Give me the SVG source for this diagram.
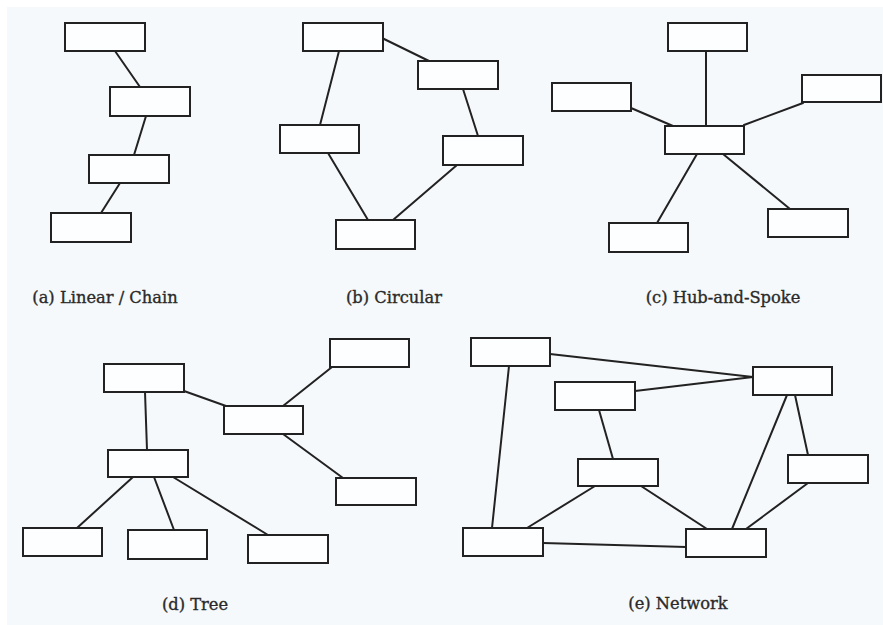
<svg xmlns="http://www.w3.org/2000/svg" width="883" height="625" viewBox="0 0 883 625">
  <style>
    .bg { fill: #f6f9fb; }
    .node rect { fill: #fdfeff; stroke: #222222; stroke-width: 2; }
    .edges line { stroke: #222222; stroke-width: 2; stroke-linecap: round; }
    .label { font-family: "DejaVu Serif", "Liberation Serif", serif; font-size: 16.3px; fill: #2a2a2a; stroke: #2a2a2a; stroke-width: 0.35; text-anchor: middle; }
  </style>
  <rect x="0" y="0" width="883" height="625" fill="#ffffff"/>
  <rect class="bg" x="7" y="7" width="876" height="618"/>

  <!-- (a) Linear / Chain -->
  <g id="chain">
    <g class="edges" id="chain-edges">
      <line x1="115" y1="51" x2="140" y2="87"/>
      <line x1="146" y1="116" x2="134" y2="155"/>
      <line x1="120" y1="183" x2="101" y2="213"/>
    </g>
    <g class="node" id="chain-1"><rect x="65" y="23" width="80" height="28"/></g>
    <g class="node" id="chain-2"><rect x="110" y="87" width="80" height="29"/></g>
    <g class="node" id="chain-3"><rect x="89" y="155" width="80" height="28"/></g>
    <g class="node" id="chain-4"><rect x="51" y="213" width="80" height="29"/></g>
    <text class="label" x="105" y="303">(a) Linear / Chain</text>
  </g>

  <!-- (b) Circular -->
  <g id="circular">
    <g class="edges" id="circular-edges">
      <line x1="382" y1="38" x2="429" y2="61"/>
      <line x1="339" y1="51" x2="320" y2="125"/>
      <line x1="463" y1="89" x2="478" y2="136"/>
      <line x1="328" y1="153" x2="368" y2="220"/>
      <line x1="457" y1="165" x2="393" y2="220"/>
    </g>
    <g class="node" id="circ-top"><rect x="303" y="23" width="80" height="28"/></g>
    <g class="node" id="circ-upper-right"><rect x="418" y="61" width="80" height="28"/></g>
    <g class="node" id="circ-left"><rect x="280" y="125" width="79" height="28"/></g>
    <g class="node" id="circ-right"><rect x="443" y="136" width="80" height="29"/></g>
    <g class="node" id="circ-bottom"><rect x="336" y="220" width="79" height="29"/></g>
    <text class="label" x="394" y="303">(b) Circular</text>
  </g>

  <!-- (c) Hub-and-Spoke -->
  <g id="hub-spoke">
    <g class="edges" id="hub-edges">
      <line x1="706" y1="51" x2="706" y2="126"/>
      <line x1="631" y1="108" x2="673" y2="126"/>
      <line x1="803" y1="103" x2="744" y2="125"/>
      <line x1="697" y1="154" x2="657" y2="223"/>
      <line x1="723" y1="154" x2="790" y2="209"/>
    </g>
    <g class="node" id="spoke-top"><rect x="668" y="23" width="79" height="28"/></g>
    <g class="node" id="spoke-left"><rect x="552" y="83" width="79" height="28"/></g>
    <g class="node" id="spoke-right"><rect x="802" y="75" width="79" height="27"/></g>
    <g class="node" id="hub"><rect x="665" y="126" width="79" height="28"/></g>
    <g class="node" id="spoke-bottom-left"><rect x="609" y="223" width="79" height="29"/></g>
    <g class="node" id="spoke-bottom-right"><rect x="768" y="209" width="80" height="28"/></g>
    <text class="label" x="723" y="303">(c) Hub-and-Spoke</text>
  </g>

  <!-- (d) Tree -->
  <g id="tree">
    <g class="edges" id="tree-edges">
      <line x1="145" y1="392" x2="147" y2="450"/>
      <line x1="184" y1="391" x2="226" y2="406"/>
      <line x1="283" y1="406" x2="332" y2="367"/>
      <line x1="283" y1="434" x2="343" y2="478"/>
      <line x1="133" y1="477" x2="77" y2="528"/>
      <line x1="154" y1="477" x2="174" y2="530"/>
      <line x1="173" y1="477" x2="268" y2="535"/>
    </g>
    <g class="node" id="tree-root"><rect x="104" y="364" width="80" height="28"/></g>
    <g class="node" id="tree-branch-right"><rect x="224" y="406" width="79" height="28"/></g>
    <g class="node" id="tree-leaf-top-right"><rect x="330" y="339" width="79" height="28"/></g>
    <g class="node" id="tree-leaf-bottom-right"><rect x="336" y="478" width="80" height="27"/></g>
    <g class="node" id="tree-branch-left"><rect x="108" y="450" width="80" height="27"/></g>
    <g class="node" id="tree-leaf-1"><rect x="23" y="528" width="79" height="28"/></g>
    <g class="node" id="tree-leaf-2"><rect x="128" y="530" width="79" height="29"/></g>
    <g class="node" id="tree-leaf-3"><rect x="248" y="535" width="80" height="28"/></g>
    <text class="label" x="195" y="610">(d) Tree</text>
  </g>

  <!-- (e) Network -->
  <g id="network">
    <g class="edges" id="network-edges">
      <line x1="550" y1="354" x2="753" y2="377"/>
      <line x1="635" y1="391" x2="753" y2="377"/>
      <line x1="509" y1="366" x2="492" y2="528"/>
      <line x1="599" y1="410" x2="613" y2="459"/>
      <line x1="595" y1="486" x2="527" y2="528"/>
      <line x1="641" y1="486" x2="707" y2="529"/>
      <line x1="543" y1="543" x2="686" y2="547"/>
      <line x1="787" y1="395" x2="732" y2="529"/>
      <line x1="795" y1="395" x2="808" y2="455"/>
      <line x1="808" y1="483" x2="746" y2="529"/>
    </g>
    <g class="node" id="net-a"><rect x="471" y="338" width="79" height="28"/></g>
    <g class="node" id="net-b"><rect x="753" y="367" width="79" height="28"/></g>
    <g class="node" id="net-c"><rect x="555" y="382" width="80" height="28"/></g>
    <g class="node" id="net-d"><rect x="578" y="459" width="80" height="27"/></g>
    <g class="node" id="net-e"><rect x="788" y="455" width="80" height="28"/></g>
    <g class="node" id="net-f"><rect x="463" y="528" width="80" height="28"/></g>
    <g class="node" id="net-g"><rect x="686" y="529" width="80" height="28"/></g>
    <text class="label" x="678" y="609">(e) Network</text>
  </g>
</svg>
